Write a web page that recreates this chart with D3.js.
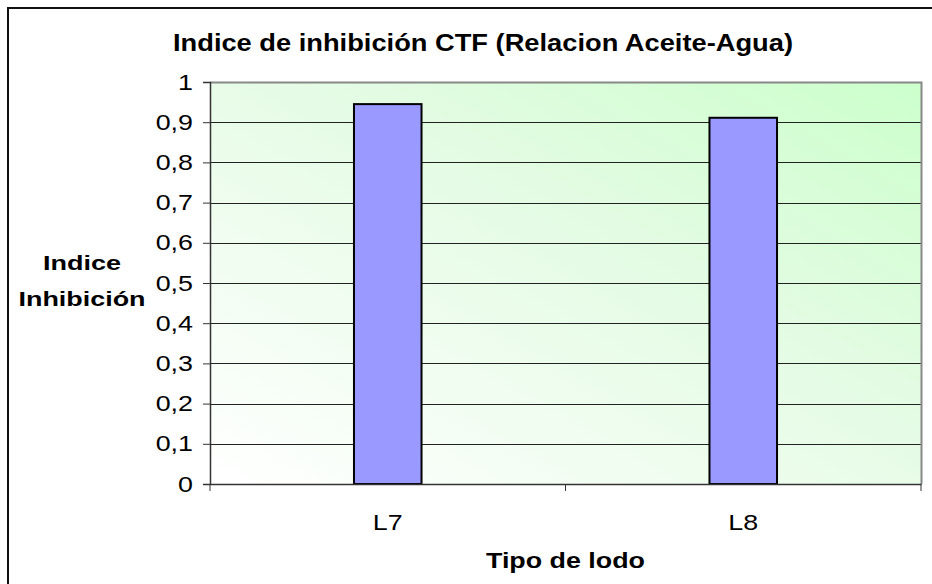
<!DOCTYPE html>
<html><head><meta charset="utf-8">
<script src="https://cdn.jsdelivr.net/npm/d3@7"></script>
<style>body{margin:0;background:#fff}svg{display:block}</style>
</head><body><svg id="c" width="932" height="584"></svg>
<script>
const categories = ["L7", "L8"];
const values = [0.945, 0.911];
const yTicks = [0, 0.1, 0.2, 0.3, 0.4, 0.5, 0.6, 0.7, 0.8, 0.9, 1];
const title = "Indice de inhibición CTF (Relacion Aceite-Agua)";
const yTitle = ["Indice", "Inhibición"];
const xTitle = "Tipo de lodo";

const svg = d3.select("#c");
const font = "Arial, 'Liberation Sans', sans-serif";
const m = {left: 210, right: 921, top: 82, bottom: 484};
const SX = 1.22; // horizontal stretch of the text in the original

function stretch(sel, f) {
  sel.each(function() {
    const w = this.getComputedTextLength();
    d3.select(this).attr("textLength", w * f).attr("lengthAdjust", "spacingAndGlyphs");
  });
}

// outer frame (extends beyond right/bottom)
svg.append("rect").attr("x", 8).attr("y", 8).attr("width", 940).attr("height", 600)
  .attr("fill", "#fff").attr("stroke", "#111").attr("stroke-width", 2);

const defs = svg.append("defs");
const g = defs.append("linearGradient").attr("id", "bg")
  .attr("x1", "0").attr("y1", "1").attr("x2", "1").attr("y2", "0");
g.append("stop").attr("offset", "0").attr("stop-color", "#ffffff");
g.append("stop").attr("offset", "0.6").attr("stop-color", "#e3fbe3");
g.append("stop").attr("offset", "1").attr("stop-color", "#ccffcc");

const x = d3.scaleBand().domain(categories).range([m.left, m.right]).paddingInner(0).paddingOuter(0);
const y = d3.scaleLinear().domain([0, 1]).range([m.bottom, m.top]);

svg.append("rect").attr("x", m.left).attr("y", m.top)
  .attr("width", m.right - m.left).attr("height", m.bottom - m.top)
  .attr("fill", "url(#bg)");

// gridlines
svg.append("g").selectAll("line").data(yTicks.filter(d => d > 0 && d < 1)).join("line")
  .attr("x1", m.left).attr("x2", m.right)
  .attr("y1", d => Math.round(y(d)) + 0.5).attr("y2", d => Math.round(y(d)) + 0.5)
  .attr("stroke", "#222").attr("stroke-width", 1);

// plot border top/right gray
svg.append("path")
  .attr("d", `M${m.left},${m.top + 0.5}H${m.right + 0.5}V${m.bottom}`)
  .attr("fill", "none").attr("stroke", "#888").attr("stroke-width", 2);

// bars
const bw = x.bandwidth() * 0.19;
svg.append("g").selectAll("rect").data(categories).join("rect")
  .attr("x", (d) => x(d) + x.bandwidth() / 2 - bw / 2)
  .attr("y", (d, i) => y(values[i]))
  .attr("width", bw)
  .attr("height", (d, i) => y(0) - y(values[i]))
  .attr("fill", "#9999ff").attr("stroke", "#000").attr("stroke-width", 2);

// y axis
const ya = svg.append("g").attr("transform", `translate(${m.left},0)`)
  .call(d3.axisLeft(y).tickValues(yTicks).tickSize(7).tickPadding(10)
    .tickFormat(d => d3.format(".1~f")(d).replace(".", ",")));
ya.select(".domain").attr("stroke", "#333").attr("stroke-width", 1.5);
ya.selectAll(".tick line").attr("stroke", "#333");
ya.selectAll("text").attr("font-family", font).attr("font-size", 22).attr("fill", "#000")
  .call(stretch, SX);

// x axis
const xa = svg.append("g").attr("transform", `translate(0,${m.bottom})`)
  .call(d3.axisBottom(x).tickSize(0).tickPadding(30));
xa.select(".domain").attr("stroke", "#333").attr("stroke-width", 1.5);
xa.selectAll("text").attr("font-family", font).attr("font-size", 22).attr("fill", "#000")
  .call(stretch, SX);
// category boundary ticks
svg.append("g").selectAll("line").data([m.left, x("L8"), m.right]).join("line")
  .attr("x1", d => d).attr("x2", d => d).attr("y1", m.bottom).attr("y2", m.bottom + 7)
  .attr("stroke", "#333");

// titles
svg.append("text").attr("x", 173).attr("y", 51).attr("text-anchor", "start")
  .attr("font-family", font).attr("font-size", 24).attr("font-weight", "bold")
  .attr("textLength", 620).attr("lengthAdjust", "spacingAndGlyphs")
  .text(title);

const yTitleLen = [78, 127];
svg.append("g").selectAll("text").data(yTitle).join("text")
  .attr("text-anchor", "middle").attr("font-family", font)
  .attr("font-size", 21).attr("font-weight", "bold")
  .attr("x", 82).attr("y", (d, i) => 270 + i * 36)
  .attr("textLength", (d, i) => yTitleLen[i]).attr("lengthAdjust", "spacingAndGlyphs")
  .text(d => d);

svg.append("text").attr("x", (m.left + m.right) / 2).attr("y", 568).attr("text-anchor", "middle")
  .attr("font-family", font).attr("font-size", 22).attr("font-weight", "bold")
  .text(xTitle).call(stretch, SX);
</script></body></html>
